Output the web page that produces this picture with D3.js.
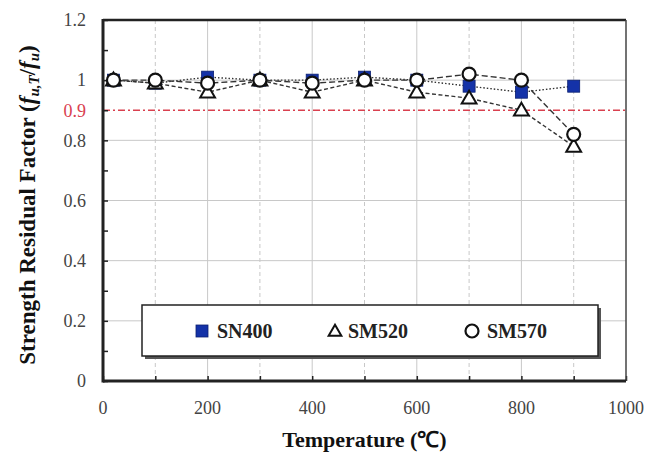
<!DOCTYPE html>
<html><head><meta charset="utf-8">
<script src="https://cdn.jsdelivr.net/npm/d3@7"></script>
<style>
body{margin:0;background:#fff;}
text{font-family:"Liberation Serif","Times New Roman",serif;}
</style></head>
<body><svg id="c" width="646" height="462"></svg>
<script>
const temps = [20,100,200,300,400,500,600,700,800,900];
const sn400 = [1.00,0.99,1.01,1.00,1.00,1.01,1.00,0.98,0.96,0.98];
const sm520 = [1.00,0.99,0.96,1.00,0.96,1.00,0.96,0.94,0.90,0.78];
const sm570 = [1.00,1.00,0.99,1.00,0.99,1.00,1.00,1.02,1.00,0.82];
const xTicks = [0,200,400,600,800,1000];
const yTicks = [0,0.2,0.4,0.6,0.8,1,1.2];
const refLevel = 0.9;
const seriesNames = ["SN400","SM520","SM570"];

const svg = d3.select("#c");
const L=103, R=626, T=20, B=381;
const x = d3.scaleLinear().domain([0,1000]).range([L,R]);
const y = d3.scaleLinear().domain([0,1.2]).range([B,T]);

// grid
const g = svg.append("g");
d3.range(100,1000,100).forEach(v=>{
  g.append("line").attr("x1",x(v)).attr("x2",x(v)).attr("y1",T).attr("y2",B)
   .attr("stroke","#c8c8c8").attr("stroke-width",1)
   .attr("stroke-dasharray", (v%200===0)? null : "4,3");
});
[0.2,0.4,0.6,0.8,1.0].forEach(v=>{
  g.append("line").attr("x1",L).attr("x2",R).attr("y1",y(v)).attr("y2",y(v))
   .attr("stroke","#c8c8c8").attr("stroke-width",1);
});

// reference line
svg.append("line").attr("x1",L).attr("x2",R).attr("y1",y(refLevel)).attr("y2",y(refLevel))
  .attr("stroke","#d9404f").attr("stroke-width",1.6).attr("stroke-dasharray","7,3,2,3");

// axes with inner ticks
const xAxis = d3.axisBottom(x).tickValues(d3.range(0,1001,100)).tickSizeInner(-5).tickSizeOuter(0).tickFormat("");
svg.append("g").attr("transform",`translate(0,${B})`).call(xAxis)
  .call(s=>{s.select(".domain").remove(); s.selectAll("line").attr("stroke","#222").attr("stroke-width",1.5);});
const yAxis = d3.axisLeft(y).tickValues(d3.range(0,13).map(i=>i/10)).tickSizeInner(-5).tickSizeOuter(0).tickFormat("");
svg.append("g").attr("transform",`translate(${L},0)`).call(yAxis)
  .call(s=>{s.select(".domain").remove(); s.selectAll("line").attr("stroke","#222").attr("stroke-width",1.5);});

// frame
svg.append("line").attr("x1",L).attr("x2",R).attr("y1",T).attr("y2",T).attr("stroke","#222").attr("stroke-width",2.5);
svg.append("line").attr("x1",R).attr("x2",R).attr("y1",T).attr("y2",B).attr("stroke","#444").attr("stroke-width",1.5);
svg.append("line").attr("x1",L).attr("x2",R).attr("y1",B).attr("y2",B).attr("stroke","#222").attr("stroke-width",3);
svg.append("line").attr("x1",L).attr("x2",L).attr("y1",T-1).attr("y2",B+1.5).attr("stroke","#222").attr("stroke-width",3);

// tick labels
yTicks.forEach(v=>{
  svg.append("text").attr("x",86).attr("y",y(v)).attr("dy","0.35em").attr("text-anchor","end")
    .attr("font-size",18).attr("fill","#444").text(d3.format("~g")(v));
});
svg.append("text").attr("x",86).attr("y",y(refLevel)).attr("dy","0.35em").attr("text-anchor","end")
  .attr("font-size",18).attr("fill","#d9404f").text(refLevel);
xTicks.forEach(v=>{
  svg.append("text").attr("x",x(v)).attr("y",408).attr("dy","0.35em").attr("text-anchor","middle")
    .attr("font-size",18).attr("fill","#444").text(v);
});

// titles
svg.append("text").attr("x",(L+R)/2).attr("y",447).attr("text-anchor","middle")
  .attr("font-size",22).attr("font-weight","bold").attr("fill","#111").text("Temperature (℃)");
const yt = svg.append("text").attr("transform","translate(35,205) rotate(-90)").attr("text-anchor","middle")
  .attr("font-size",23).attr("font-weight","bold").attr("fill","#111");
yt.append("tspan").text("Strength Residual Factor (");
yt.append("tspan").attr("font-style","italic").text("f");
yt.append("tspan").attr("font-size",15).attr("font-style","italic").attr("dy",4).text("u,T");
yt.append("tspan").attr("dy",-4).text("/");
yt.append("tspan").attr("font-style","italic").text("f");
yt.append("tspan").attr("font-size",15).attr("font-style","italic").attr("dy",4).text("u");
yt.append("tspan").attr("dy",-4).text(")");

// series lines
const data = [sn400, sm520, sm570];
const dashes = ["1.5,2","4,2.5","6,3"];
data.forEach((arr,i)=>{
  const line = d3.line().x((d,j)=>x(temps[j])).y(d=>y(d));
  svg.append("path").attr("d",line(arr)).attr("fill","none")
    .attr("stroke","#333").attr("stroke-width",1.4).attr("stroke-dasharray",dashes[i]);
});

// markers
const blue = "#1432a8";
function square(sel,cx,cy){ sel.append("rect").attr("x",cx-6).attr("y",cy-6).attr("width",12).attr("height",12).attr("fill",blue).attr("stroke","#0a1f70").attr("stroke-width",0.8); }
function tri(sel,cx,cy,a){ sel.append("path").attr("d",d3.symbol(d3.symbolTriangle,a||95)()).attr("transform",`translate(${cx},${cy+1})`).attr("fill","#fff").attr("stroke","#111").attr("stroke-width",2); }
function circ(sel,cx,cy){ sel.append("circle").attr("cx",cx).attr("cy",cy).attr("r",6.5).attr("fill","#fff").attr("stroke","#111").attr("stroke-width",2.2); }
sn400.forEach((v,j)=>square(svg,x(temps[j]),y(v)));
sm520.forEach((v,j)=>tri(svg,x(temps[j]),y(v)));
sm570.forEach((v,j)=>circ(svg,x(temps[j]),y(v)));

// legend
const lg = svg.append("g");
lg.append("rect").attr("x",145).attr("y",308).attr("width",456).attr("height",51).attr("fill","#555");
lg.append("rect").attr("x",142).attr("y",305).attr("width",456).attr("height",51).attr("fill","#fff").attr("stroke","#222").attr("stroke-width",1.5);
const ly = 331;
square(lg,202,ly);
tri(lg,335,ly,70);
circ(lg,472,ly);
[[217,seriesNames[0]],[348,seriesNames[1]],[487,seriesNames[2]]].forEach(([lx,t])=>{
  lg.append("text").attr("x",lx).attr("y",ly).attr("dy","0.35em").attr("font-size",20).attr("font-weight","bold").attr("fill","#222").text(t);
});
</script></body></html>
